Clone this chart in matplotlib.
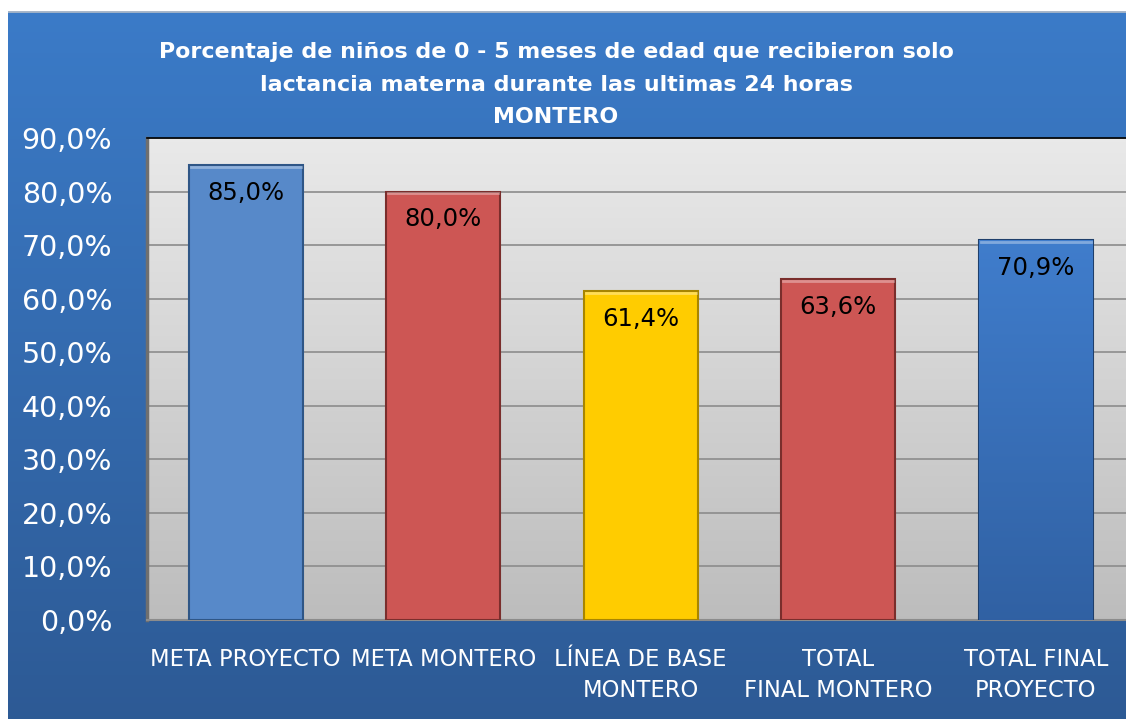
import numpy as np
import matplotlib
matplotlib.use("Agg")
import matplotlib.pyplot as plt

plt.rcParams['font.family'] = ['DejaVu Sans']

# Datos
categorias = ["META PROYECTO", "META MONTERO", "LÍNEA DE BASE\nMONTERO",
              "TOTAL\nFINAL MONTERO", "TOTAL FINAL\nPROYECTO"]
valores = [85.0, 80.0, 61.4, 63.6, 70.9]
etiquetas = ["85,0%", "80,0%", "61,4%", "63,6%", "70,9%"]
colores = ["#5789c9", "#cd5654", "#ffcc00", "#cd5654", "#3a74bd"]
bordes = ["#2f5686", "#7a2e2c", "#a88500", "#7a2e2c", "#1f3f6b"]
yticks = np.arange(0, 91, 10)
titulo = ["Porcentaje de niños de 0 - 5 meses de edad que recibieron solo",
          "lactancia materna durante las ultimas 24 horas",
          "MONTERO"]

W, H = 1126, 719
fig = plt.figure(figsize=(W / 100, H / 100), dpi=100)
fig.patch.set_facecolor("white")

# Fondo azul con degradado
bg = fig.add_axes([8 / W, 0, 1 - 8 / W, 1 - 11 / H], zorder=0)
top = np.array([0.231, 0.482, 0.784])
bot = np.array([0.176, 0.353, 0.584])
t = np.linspace(0, 1, 256)[:, None, None]
grad = top * (1 - t) + bot * t
bg.imshow(grad, aspect="auto", extent=[0, 1, 0, 1])
bg.axhline(1, color="#a9b7c9", lw=2)
bg.set_axis_off()

# Area de grafico
ax = fig.add_axes([147 / W, 99 / H, (1134.5 - 147) / W, 482 / H], zorder=1)
x = np.arange(len(valores))
ax.set_xlim(-0.5, len(valores) - 0.5)
ax.set_ylim(0, 90)
t2 = np.linspace(0, 1, 256)[:, None, None]
gris = np.array([0.915, 0.915, 0.915]) * (1 - t2) + np.array([0.74, 0.74, 0.74]) * t2
ax.imshow(gris, aspect="auto", extent=[-0.5, len(valores) - 0.5, 0, 90], zorder=0)

for yv in yticks[1:]:
    ax.axhline(yv, color="#8c8c8c", lw=1.2, zorder=1)

bars = ax.bar(x, valores, width=0.575, color=colores, edgecolor=bordes,
              linewidth=1.5, zorder=3)

# degradado en la ultima barra
b = bars[4]
g5 = np.array([0.25, 0.49, 0.80]) * (1 - t2) + np.array([0.19, 0.38, 0.64]) * t2
im = ax.imshow(g5, aspect="auto", zorder=3.5,
               extent=[b.get_x(), b.get_x() + b.get_width(), 0, b.get_height()])
im.set_clip_path(b)

# brillo superior de las barras
for bar in bars:
    ax.plot([bar.get_x() + 0.01, bar.get_x() + bar.get_width() - 0.01],
            [bar.get_height() - 0.35] * 2, color="white", alpha=0.35, lw=2, zorder=4)

for xi, v, lab in zip(x, valores, etiquetas):
    ax.annotate(lab, (xi, v), xytext=(0, -20), textcoords="offset points",
                ha="center", va="center", fontsize=17.5, color="black", zorder=5)

ax.set_yticks(yticks)
ax.set_yticklabels([f"{v:.1f}%".replace(".", ",") for v in yticks],
                   fontsize=20.5, color="white")
ax.set_xticks(x)
ax.set_xticklabels(categorias, fontsize=16.3, color="white", linespacing=1.45)
ax.tick_params(axis="y", length=0, pad=25)
ax.tick_params(axis="x", length=0, pad=20)

ax.spines["top"].set_color("black")
ax.spines["top"].set_linewidth(1.2)
ax.spines["left"].set_color("#6f6f6f")
ax.spines["left"].set_linewidth(2.5)
ax.spines["bottom"].set_color("#8c8c8c")
ax.spines["bottom"].set_linewidth(1.5)
ax.spines["right"].set_visible(False)

for yc, linea in zip([52, 85, 117], titulo):
    fig.text(556 / W, 1 - yc / H, linea, ha="center", va="center", fontsize=15.9,
             fontweight="bold", color="white")

fig.savefig("out.png", dpi=100)
